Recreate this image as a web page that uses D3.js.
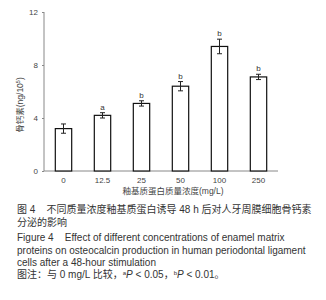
<!DOCTYPE html>
<html><head><meta charset="utf-8">
<script src="https://cdn.jsdelivr.net/npm/d3@7"></script>
<style>
html,body{margin:0;padding:0;background:#fff;}
svg{display:block;}
.cap{font-family:"Liberation Sans",Arial,"Noto Sans CJK SC",sans-serif;font-size:10px;fill:#333;white-space:pre;}
</style></head>
<body>
<svg id="chart" width="326" height="300"></svg>
<script>
const categories = ["0","12.5","25","50","100","250"];
const values = [3.2, 4.2, 5.1, 6.4, 9.4, 7.1];
const errors = [0.35, 0.2, 0.2, 0.35, 0.55, 0.2];
const sigLabels = ["", "a", "b", "b", "b", "b"];
const yTicks = [0, 4, 8, 12];
const xTitle = "釉基质蛋白质量浓度(mg/L)";
const captionLines = [
  "图 4    不同质量浓度釉基质蛋白诱导 48 h 后对人牙周膜细胞骨钙素",
  "分泌的影响",
  "Figure 4    Effect of different concentrations of enamel matrix",
  "proteins on osteocalcin production in human periodontal ligament",
  "cells after a 48-hour stimulation",
  "图注：与 0 mg/L 比较，"
];

const svg = d3.select("#chart");
const font = '"Liberation Sans",Arial,"Noto Sans CJK SC",sans-serif';
const x = d3.scaleBand().domain(categories).range([44, 278]).paddingInner(0.58).paddingOuter(0.29);
const y = d3.scaleLinear().domain([0, 12]).range([171, 12]);

// y axis
const ya = svg.append("g").attr("transform","translate(44,0)")
  .call(d3.axisLeft(y).tickValues(yTicks).tickSize(2).tickPadding(4));
ya.select(".domain").attr("stroke","#888").attr("d","M0,171V12");
ya.selectAll(".tick line").attr("stroke","#888");
ya.selectAll("text").attr("font-family",font).attr("font-size","8px").attr("fill","#444");

// x axis
const xa = svg.append("g").attr("transform","translate(0,171)")
  .call(d3.axisBottom(x).tickSize(0).tickPadding(6));
xa.select(".domain").attr("stroke","#888").attr("d","M44,0H278");
xa.selectAll("text").attr("font-family",font).attr("font-size","8px").attr("fill","#444");

// bars
svg.append("g").selectAll("rect").data(values).join("rect")
  .attr("x",(d,i)=>x(categories[i]))
  .attr("y",d=>y(d))
  .attr("width",x.bandwidth())
  .attr("height",d=>y(0)-y(d))
  .attr("fill","#fff").attr("stroke","#111").attr("stroke-width",1.2);

// error bars
const eg = svg.append("g").attr("stroke","#222").attr("stroke-width",1);
values.forEach((v,i)=>{
  const cx = x(categories[i]) + x.bandwidth()/2;
  eg.append("line").attr("x1",cx).attr("x2",cx).attr("y1",y(v+errors[i])).attr("y2",y(v-errors[i]));
  eg.append("line").attr("x1",cx-2.5).attr("x2",cx+2.5).attr("y1",y(v+errors[i])).attr("y2",y(v+errors[i]));
  eg.append("line").attr("x1",cx-2.5).attr("x2",cx+2.5).attr("y1",y(v-errors[i])).attr("y2",y(v-errors[i]));
});

// significance letters
svg.append("g").selectAll("text").data(values).join("text")
  .attr("x",(d,i)=>x(categories[i]) + x.bandwidth()/2)
  .attr("y",(d,i)=>y(d+errors[i]) - 3)
  .attr("text-anchor","middle").attr("font-family",font).attr("font-size","8px").attr("fill","#333")
  .text((d,i)=>sigLabels[i]);

// y title
const yt = svg.append("text").attr("transform","translate(23,105) rotate(-90)")
  .attr("text-anchor","middle").attr("font-family",font).attr("font-size","8.5px").attr("fill","#444");
yt.append("tspan").text("骨钙素(ng/10");
yt.append("tspan").attr("font-size","5.5px").attr("dy","-3").text("5");
yt.append("tspan").attr("dy","3").text(")");

// x title
svg.append("text").attr("x",173).attr("y",194).attr("text-anchor","middle")
  .attr("font-family",font).attr("font-size","8.5px").attr("fill","#444").text(xTitle);

// caption
const capY = [213, 226, 241, 254, 266, 278];
captionLines.forEach((t,i)=>{
  const tx = svg.append("text").attr("class","cap").attr("x",17).attr("y",capY[i]);
  if(i===5){
    tx.attr("fill","#555");
    tx.append("tspan").text(t);
    tx.append("tspan").attr("font-size","6px").attr("dy","-3").text("a");
    tx.append("tspan").attr("dy","3").attr("font-style","italic").text("P");
    tx.append("tspan").text(" < 0.05，");
    tx.append("tspan").attr("font-size","6px").attr("dy","-3").text("b");
    tx.append("tspan").attr("dy","3").attr("font-style","italic").text("P");
    tx.append("tspan").text(" < 0.01。");
  } else {
    tx.text(t);
  }
});
</script>
</body></html>
